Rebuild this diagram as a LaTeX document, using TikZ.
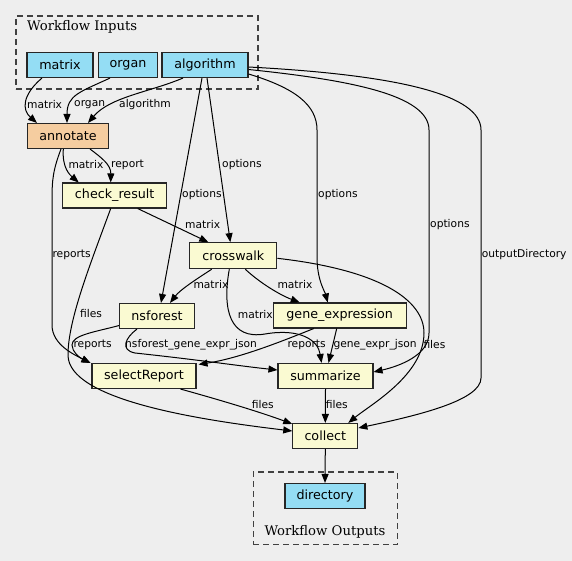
\documentclass[tikz,border=0pt]{standalone}
\usepackage{fontspec}
\newfontfamily\nodefont{DejaVu Sans}
\newfontfamily\clusterfont{DejaVu Serif}
\usetikzlibrary{arrows.meta,calc}
\definecolor{bgc}{HTML}{EEEEEE}
\definecolor{inblue}{HTML}{94DDF4}
\definecolor{stepyellow}{HTML}{FAFAD2}
\definecolor{annorange}{HTML}{F5CDA0}
\tikzset{
  box/.style={draw=black!85, line width=1.1pt, rectangle, inner sep=0pt, minimum height=25pt, font=\nodefont\fontsize{12.7}{15}\selectfont},
  inbox/.style={box, fill=inblue},
  stepbox/.style={box, fill=stepyellow},
  lab/.style={anchor=west, inner sep=0pt, font=\nodefont\fontsize{10.7}{12}\selectfont},
  conn/.style={draw=black, line width=1pt, -{Triangle[length=9pt,width=7pt]}},
  cluster/.style={draw=black!75, dash pattern=on 6pt off 4pt, line width=1.2pt, inner sep=0pt},
  ctitle/.style={anchor=west, inner sep=0pt, font=\clusterfont\fontsize{13.2}{15}\selectfont}
}
\begin{document}
\begin{tikzpicture}[x=1pt,y=-1pt]
\fill[bgc] (0,0) rectangle (572,561);
\useasboundingbox (0,0) rectangle (572,561);
% clusters
\node[cluster, minimum width=242pt, minimum height=73pt] (cin) at (137,52.5) {};
\node[ctitle] (cintitle) at (27,27.3) {Workflow Inputs};
\node[cluster, minimum width=144pt, minimum height=72.7pt] (cout) at (325.3,508.3) {};
\node[ctitle] (couttitle) at (264.3,531.7) {Workflow Outputs};
% nodes
\node[inbox, minimum width=66pt] (matrix) at (60,65) {matrix};
\node[inbox, minimum width=59pt] (organ) at (128,65) {organ};
\node[inbox, minimum width=86pt] (algorithm) at (205,65) {algorithm};
\node[box, fill=annorange, minimum width=81pt] (annotate) at (68,136) {annotate};
\node[stepbox, minimum width=104pt] (check) at (114.7,195.5) {check\_result};
\node[stepbox, minimum width=87pt, minimum height=26pt] (crosswalk) at (233.3,255.7) {crosswalk};
\node[stepbox, minimum width=75pt] (nsforest) at (157,316) {nsforest};
\node[stepbox, minimum width=133pt] (geneexp) at (339.7,315.5) {gene\_expression};
\node[stepbox, minimum width=104pt] (select) at (144,376) {selectReport};
\node[stepbox, minimum width=95pt] (summarize) at (325.5,376) {summarize};
\node[stepbox, minimum width=65pt] (collect) at (325.3,436) {collect};
\node[inbox, minimum width=80pt] (directory) at (325,496) {directory};
% edges
\draw[conn] ([xshift=-18pt]matrix.south) .. controls (22,95) and (22,110) .. ([xshift=-31pt]annotate.north);
\draw[conn] ([xshift=-18pt]organ.south) .. controls (80,92) and (67,95) .. ([xshift=-1pt]annotate.north);
\draw[conn] ([xshift=-22pt]algorithm.south) .. controls (150,92) and (110,97) .. ([xshift=20pt]annotate.north);
\draw[conn] ([xshift=-3pt]algorithm.south) -- ([xshift=4pt]nsforest.north);
\draw[conn] ([xshift=2pt]algorithm.south) -- ([xshift=-3pt]crosswalk.north);
\draw[conn] ([yshift=-9pt]algorithm.east) .. controls (295,88) and (317,105) .. (317,130) -- (317,257) .. controls (317,280) and (325,292) .. ([xshift=-12pt]geneexp.north);
\draw[conn] ([yshift=-4.5pt]algorithm.east) .. controls (350,80) and (429,95) .. (429,130) -- (429,333) .. controls (429,355) and (400,366) .. ([yshift=4pt]summarize.east);
\draw[conn] ([yshift=-2pt]algorithm.east) .. controls (400,75) and (481,95) .. (481,130) -- (481,378) .. controls (481,400) and (420,415) .. ([yshift=8pt]collect.east);
\draw[conn] ([xshift=-4.7pt]annotate.south) .. controls (62,168) and (70,175) .. ([xshift=-36pt]check.north);
\draw[conn] ([xshift=22pt]annotate.south) .. controls (102,158) and (111,165) .. ([xshift=-4pt]check.north);
\draw[conn] ([xshift=-7pt]annotate.south) .. controls (53,170) and (52,180) .. (52,200) -- (52,325) .. controls (52,345) and (75,355) .. ([xshift=-1pt]select.north west);
\draw[conn] ([xshift=23pt]check.south) -- ([xshift=-25pt]crosswalk.north);
\draw[conn] ([xshift=-4pt]check.south) .. controls (90,265) and (68,320) .. (68,355) .. controls (68,400) and (200,420) .. ([yshift=5pt]collect.west);
\draw[conn] ([xshift=-21.6pt]crosswalk.south) .. controls (195,280) and (180,290) .. ([xshift=13pt]nsforest.north);
\draw[conn] ([xshift=12pt]crosswalk.south) .. controls (260,283) and (280,295) .. ([xshift=-40pt]geneexp.north);
\draw[conn] ([xshift=-4pt]crosswalk.south) .. controls (222,310) and (230,340) .. (265,334) .. controls (300,328) and (318,340) .. ([xshift=-4pt]summarize.north);
\draw[conn] ([yshift=-2.6pt]crosswalk.east) .. controls (380,270) and (424,300) .. (424,333) .. controls (424,375) and (370,405) .. ([xshift=23pt]collect.north);
\draw[conn] ([yshift=3.5pt]nsforest.south west) .. controls (95,332) and (72,335) .. (72,345) .. controls (72,352) and (80,358) .. ([xshift=-1pt]select.north west);
\draw[conn] ([xshift=-20pt]nsforest.south) .. controls (125,338) and (120,350) .. (135,353) .. controls (200,360) and (240,366) .. ([yshift=6pt]summarize.west);
\draw[conn] ([xshift=-26pt]geneexp.south) .. controls (280,342) and (240,358) .. ([xshift=2pt,yshift=-1.5pt]select.north east);
\draw[conn] ([xshift=-3pt]geneexp.south) -- ([xshift=3pt]summarize.north);
\draw[conn] ([xshift=-16pt]select.south east) .. controls (220,400) and (260,412) .. ([yshift=-1pt]collect.north west);
\draw[conn] (summarize.south) -- (collect.north);
\draw[conn] (collect.south) -- (directory.north);
% edge labels
\node[lab] (l1) at (27,105) {matrix};
\node[lab] (l2) at (74,105) {organ};
\node[lab] (l3) at (119,105) {algorithm};
\node[lab] (l4) at (68.3,165) {matrix};
\node[lab] (l5) at (111,165) {report};
\node[lab] (l6) at (182,194.3) {options};
\node[lab] (l7) at (222,164.7) {options};
\node[lab] (l8) at (318,194.7) {options};
\node[lab] (l9) at (430,224.7) {options};
\node[lab] (l10) at (481.7,254.7) {outputDirectory};
\node[lab] (l11) at (52.3,255) {reports};
\node[lab] (l12) at (185,224.3) {matrix};
\node[lab] (l13) at (80,314) {files};
\node[lab] (l14) at (193.3,284.5) {matrix};
\node[lab] (l15) at (277.3,284.5) {matrix};
\node[lab] (l16) at (237.7,315) {matrix};
\node[lab] (l17) at (423.3,344.7) {files};
\node[lab] (l18) at (73.3,345) {reports};
\node[lab] (l19) at (125,345) {nsforest\_gene\_expr\_json};
\node[lab] (l20) at (287.3,345) {reports};
\node[lab] (l21) at (333.3,345) {gene\_expr\_json};
\node[lab] (l22) at (251.7,404.3) {files};
\node[lab] (l23) at (325.7,404.3) {files};
\end{tikzpicture}
\end{document}
